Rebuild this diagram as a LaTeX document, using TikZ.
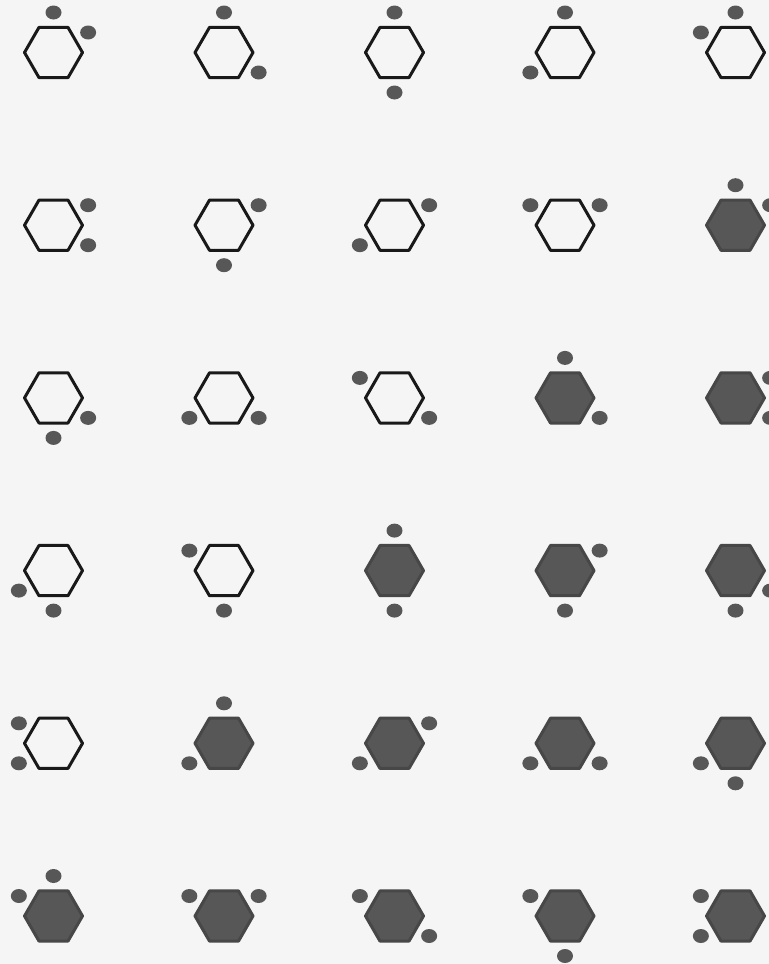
\documentclass[tikz,border=0pt]{standalone}
\usepackage{tikz}
\usetikzlibrary{shapes.geometric}

\begin{document}
\begin{tikzpicture}[
x=0.5pt,
y=0.5pt,
hexagon/.style={regular polygon,regular polygon sides=6,minimum size=29pt,inner sep=0pt,line width=1.5pt,line join=round},
openhex/.style={hexagon,draw=black!90},
fullhex/.style={hexagon,draw=black!72,fill=black!66},
dot/.style={fill=black!66}
]
\fill[black!4] (0,0) rectangle (769,-964);
\useasboundingbox (0,0) rectangle (769,-964);

% row/column/kind/first dot/second dot (angles round the centre)
\foreach \r/\c/\kind/\a/\b in {
  1/1/openhex/90/30, 1/2/openhex/90/-30, 1/3/openhex/90/-90, 1/4/openhex/90/210, 1/5/openhex/90/150,
  2/1/openhex/30/-30, 2/2/openhex/30/-90, 2/3/openhex/30/210, 2/4/openhex/150/30, 2/5/fullhex/90/30,
  3/1/openhex/-30/-90, 3/2/openhex/210/-30, 3/3/openhex/150/-30, 3/4/fullhex/90/-30, 3/5/fullhex/30/-30,
  4/1/openhex/210/-90, 4/2/openhex/150/-90, 4/3/fullhex/90/-90, 4/4/fullhex/30/-90, 4/5/fullhex/-30/-90,
  5/1/openhex/150/210, 5/2/fullhex/90/210, 5/3/fullhex/30/210, 5/4/fullhex/210/-30, 5/5/fullhex/210/-90,
  6/1/fullhex/90/150, 6/2/fullhex/150/30, 6/3/fullhex/150/-30, 6/4/fullhex/150/-90, 6/5/fullhex/150/210}
{
  \node[\kind] (h\r\c) at ({53.5+170.5*(\c-1)},{-52.5-172.7*(\r-1)}) {};
  \fill[dot] (h\r\c.center) ++(\a:40) ellipse [x radius=4pt,y radius=3.5pt];
  \fill[dot] (h\r\c.center) ++(\b:40) ellipse [x radius=4pt,y radius=3.5pt];
}
\end{tikzpicture}
\end{document}
